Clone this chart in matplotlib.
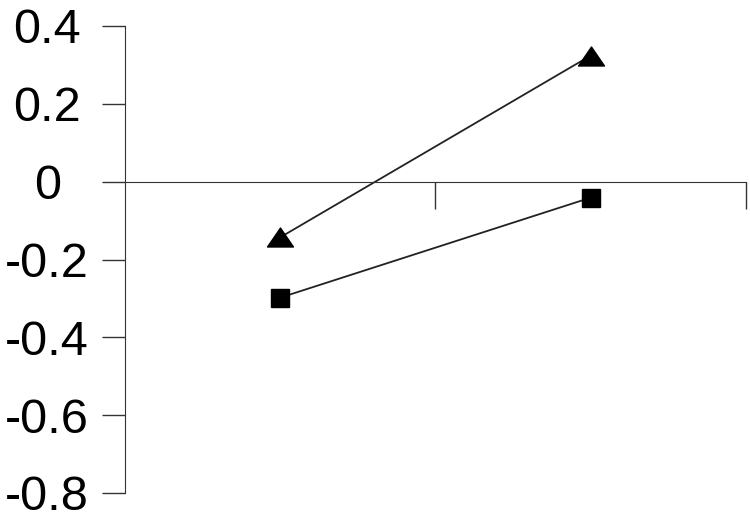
import matplotlib.pyplot as plt
import numpy as np
from matplotlib.path import Path

# two categories, two series
categories = ["A", "B"]
triangle_vals = [-0.143, 0.324]
square_vals = [-0.298, -0.041]
y_ticks = [-0.8, -0.6, -0.4, -0.2, 0, 0.2, 0.4]
y_tick_labels = ["-0.8", "-0.6", "-0.4", "-0.2", "0", "0.2", "0.4"]

plt.rcParams['font.family'] = ['Liberation Sans', 'DejaVu Sans']

fig = plt.figure(figsize=(7.5, 5.2), dpi=100)
ax = fig.add_axes([125 / 750, 27 / 520, 621 / 750, 467 / 520])

x = np.arange(len(categories)) + 0.5

# wide flat triangle like the original
tri = Path([(-1, -0.73), (1, -0.73), (0, 0.73), (-1, -0.73)],
           [Path.MOVETO, Path.LINETO, Path.LINETO, Path.CLOSEPOLY])

ax.plot(x, triangle_vals, color="#222222", lw=1.3, marker=tri,
        markersize=18.7, markerfacecolor="black", markeredgecolor="black")
ax.plot(x, square_vals, color="#222222", lw=1.3, marker="s",
        markersize=12.5, markerfacecolor="black", markeredgecolor="black")

ax.set_xlim(0, len(categories))
ax.set_ylim(-0.8, 0.4)

for s in ["top", "right"]:
    ax.spines[s].set_visible(False)
ax.spines["bottom"].set_position(("data", 0))
ax.spines["left"].set_color("#333333")
ax.spines["bottom"].set_color("#333333")

ax.set_xticks([1, 2])
ax.set_xticklabels([])
ax.tick_params(axis="x", direction="out", length=19.5, width=1, color="#333333")

ax.set_yticks(y_ticks)
ax.set_yticklabels(y_tick_labels, fontsize=35, ha="center")
ax.tick_params(axis="y", direction="out", length=16.5, width=1, color="#333333", pad=39.5)

fig.savefig("out.png", dpi=100)
